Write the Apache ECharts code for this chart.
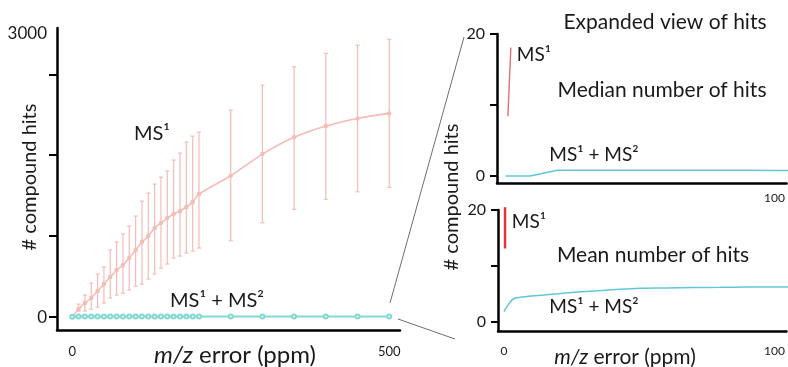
<!DOCTYPE html>
<html>
<head>
<meta charset="utf-8">
<script src="https://cdn.jsdelivr.net/npm/echarts@6/dist/echarts.min.js"></script>
<style>
html,body{margin:0;padding:0;background:#fff;}
#c{width:788px;height:367px;}
</style>
</head>
<body>
<div id="c"></div>
<script>
// ---- Left panel: full range ----
const leftX = [0,10,20,30,40,50,60,70,80,90,100,110,120,130,140,150,160,170,180,190,200,250,300,350,400,450,500];
const ms1Mean = [0,84,148,201,275,348,422,496,549,623,708,792,855,940,993,1045,1088,1119,1162,1214,1299,1492,1721,1898,2017,2098,2151];
const ms1Upper = [0,137,232,359,454,528,708,792,876,961,1067,1225,1309,1404,1478,1542,1658,1732,1848,1911,1954,2186,2450,2643,2785,2872,2933];
const ms1Lower = [0,63,63,84,106,148,201,232,253,285,327,348,401,454,517,560,623,644,676,697,729,806,996,1137,1243,1323,1370];
const ms12Left = [2,5,5,5,5,6,6,6,6,6,6,6,6,6,6,6,6,6,6,6,6,6,6,6,6,6,6];
const leftYLabels = [0, 3000];
const leftYTicks = [0, 856, 1711, 2556];
const leftXLabels = [0, 500];

// ---- Right top: median (expanded) ----
const medX = [1,10,20,30,40,50,60,70,80,90,100,110];
const ms12Median = [0,0,0.8,0.8,0.8,0.8,0.8,0.8,0.78,0.78,0.75,0.75];
const ms1MedianX = [1.8, 2.9];
const ms1Median = [8.4, 18.1];

// ---- Right bottom: mean (expanded) ----
const meanX = [0,1,2,3,4,5,10,20,30,40,50,60,70,80,90,100,110];
const ms12Mean = [1.8,2.6,3.3,3.9,4.2,4.3,4.6,5.0,5.4,5.7,6.0,6.05,6.1,6.15,6.2,6.2,6.2];
const ms1MeanX = [0.4, 0.4];
const ms1MeanV = [13.1, 20.5];

const rightYLabels = [0, 20];
const rightYTicks = [0, 10, 20];
const rightTopXLabels = [100];
const rightBotXLabels = [0, 100];

const FONT = 'Lato';
const TXT = '#1a1a1a';
const PINK = '#f4bcb6';
const CYAN = '#82d9d3';
const BLUE = '#62c6d8';

const zip = (a, b) => a.map((v, i) => [v, b[i]]);
const plain = v => String(v);

const axisLineStyle = {show: true, onZero: false, lineStyle: {color: '#000', width: 2.5}};

const chart = echarts.init(document.getElementById('c'), null, {renderer: 'canvas'});

const errData = leftX.map((x, i) => [x, ms1Lower[i], ms1Upper[i]]).filter(d => d[0] > 0);

const option = {
  animation: false,
  backgroundColor: '#fff',
  grid: [
    {left: 57, top: 28, right: 388, bottom: 37},
    {left: 497, top: 34, right: 0, bottom: 184},
    {left: 498, top: 210, right: 0, bottom: 36}
  ],
  xAxis: [
    {gridIndex: 0, type: 'value', min: -24, max: 517, axisLine: axisLineStyle,
     axisTick: {show: false}, splitLine: {show: false},
     axisLabel: {customValues: leftXLabels, formatter: plain, fontFamily: FONT, fontSize: 13, color: TXT, margin: 15}},
    {gridIndex: 1, type: 'value', min: -2.2, max: 104.4, axisLine: axisLineStyle,
     axisTick: {show: false}, splitLine: {show: false},
     axisLabel: {customValues: rightTopXLabels, formatter: plain, fontFamily: FONT, fontSize: 12, color: TXT, margin: 9}},
    {gridIndex: 2, type: 'value', min: -2.2, max: 104.4, axisLine: axisLineStyle,
     axisTick: {show: false}, splitLine: {show: false},
     axisLabel: {customValues: rightBotXLabels, formatter: plain, fontFamily: FONT, fontSize: 12, color: TXT, margin: 14}}
  ],
  yAxis: [
    {gridIndex: 0, type: 'value', min: -137, max: 3053, axisLine: axisLineStyle,
     axisTick: {show: true, customValues: leftYTicks, length: 8, lineStyle: {color: '#000', width: 2}},
     splitLine: {show: false},
     axisLabel: {customValues: leftYLabels, formatter: plain, fontFamily: FONT, fontSize: 17, color: TXT, margin: 10}},
    {gridIndex: 1, type: 'value', min: -1, max: 20, axisLine: axisLineStyle,
     axisTick: {show: true, customValues: rightYTicks, length: 7, lineStyle: {color: '#000', width: 2}},
     splitLine: {show: false},
     axisLabel: {customValues: rightYLabels, formatter: plain, fontFamily: FONT, fontSize: 16, color: TXT, margin: 12}},
    {gridIndex: 2, type: 'value', min: -1.67, max: 20, axisLine: axisLineStyle,
     axisTick: {show: true, customValues: rightYTicks, length: 7, lineStyle: {color: '#000', width: 2}},
     splitLine: {show: false},
     axisLabel: {customValues: rightYLabels, formatter: plain, fontFamily: FONT, fontSize: 16, color: TXT, margin: 12}}
  ],
  series: [
    {
      type: 'custom', xAxisIndex: 0, yAxisIndex: 0, data: errData, z: 2,
      renderItem: function (params, api) {
        const x = api.value(0);
        const lo = api.coord([x, api.value(1)]);
        const hi = api.coord([x, api.value(2)]);
        const cap = 2;
        const st = {stroke: PINK, lineWidth: 1.2};
        return {type: 'group', children: [
          {type: 'line', shape: {x1: lo[0], y1: lo[1], x2: hi[0], y2: hi[1]}, style: st},
          {type: 'line', shape: {x1: hi[0]-cap, y1: hi[1], x2: hi[0]+cap, y2: hi[1]}, style: st},
          {type: 'line', shape: {x1: lo[0]-cap, y1: lo[1], x2: lo[0]+cap, y2: lo[1]}, style: st}
        ]};
      }
    },
    {
      type: 'line', xAxisIndex: 0, yAxisIndex: 0, data: zip(leftX, ms1Mean), z: 3,
      smooth: 0.3, symbol: 'emptyCircle', symbolSize: 2.5, showAllSymbol: true,
      lineStyle: {color: PINK, width: 1.6}, itemStyle: {color: PINK, borderWidth: 0.8}
    },
    {
      type: 'line', xAxisIndex: 0, yAxisIndex: 0, data: zip(leftX, ms12Left), z: 4,
      symbol: 'emptyCircle', symbolSize: 4, showAllSymbol: true,
      lineStyle: {color: CYAN, width: 2}, itemStyle: {color: CYAN, borderWidth: 1}
    },
    {
      type: 'line', xAxisIndex: 1, yAxisIndex: 1, data: zip(medX, ms12Median),
      symbol: 'none', lineStyle: {color: BLUE, width: 1.5}
    },
    {
      type: 'line', xAxisIndex: 1, yAxisIndex: 1, data: zip(ms1MedianX, ms1Median),
      symbol: 'none', lineStyle: {color: '#de7078', width: 1.4}
    },
    {
      type: 'line', xAxisIndex: 2, yAxisIndex: 2, data: zip(meanX, ms12Mean),
      symbol: 'none', smooth: 0.3, lineStyle: {color: BLUE, width: 1.5}
    },
    {
      type: 'line', xAxisIndex: 2, yAxisIndex: 2, data: zip(ms1MeanX, ms1MeanV), clip: false,
      symbol: 'none', lineStyle: {color: '#e2343a', width: 2.5}
    }
  ]
};

chart.setOption(option);

function txt(text, x, y, size, rot) {
  return {
    type: 'text', x: x, y: y, rotation: rot || 0, silent: true,
    style: {
      text: text, fontFamily: FONT, fontSize: size, fill: TXT,
      align: 'center', verticalAlign: 'middle',
      rich: {
        i: {fontFamily: FONT, fontSize: size, fontStyle: 'italic', fill: TXT}
      }
    }
  };
}

const g = [
  txt('# compound hits', 30, 177, 20, Math.PI / 2),
  txt('# compound hits', 452, 197, 20, Math.PI / 2),
  txt('{i|m/z} error (ppm)', 235, 355, 24),
  txt('{i|m/z} error (ppm)', 625, 357, 21),
  txt('MS\u00b9', 152, 134, 20),
  txt('MS\u00b9 + MS\u00b2', 217, 301, 20),
  txt('Expanded view of hits', 665, 22, 21),
  txt('MS\u00b9', 534, 55, 19),
  txt('Median number of hits', 662, 90, 21),
  txt('MS\u00b9 + MS\u00b2', 594, 155, 19),
  txt('MS\u00b9', 529, 222, 19),
  txt('Mean number of hits', 653, 255, 21),
  txt('MS\u00b9 + MS\u00b2', 594, 307, 19),
  {type: 'line', silent: true, shape: {x1: 390, y1: 303, x2: 464, y2: 37}, style: {stroke: '#6e6e6e', lineWidth: 1}},
  {type: 'line', silent: true, shape: {x1: 398, y1: 319, x2: 455, y2: 339}, style: {stroke: '#6e6e6e', lineWidth: 1}}
];
chart.setOption({graphic: g});
</script>
</body>
</html>
